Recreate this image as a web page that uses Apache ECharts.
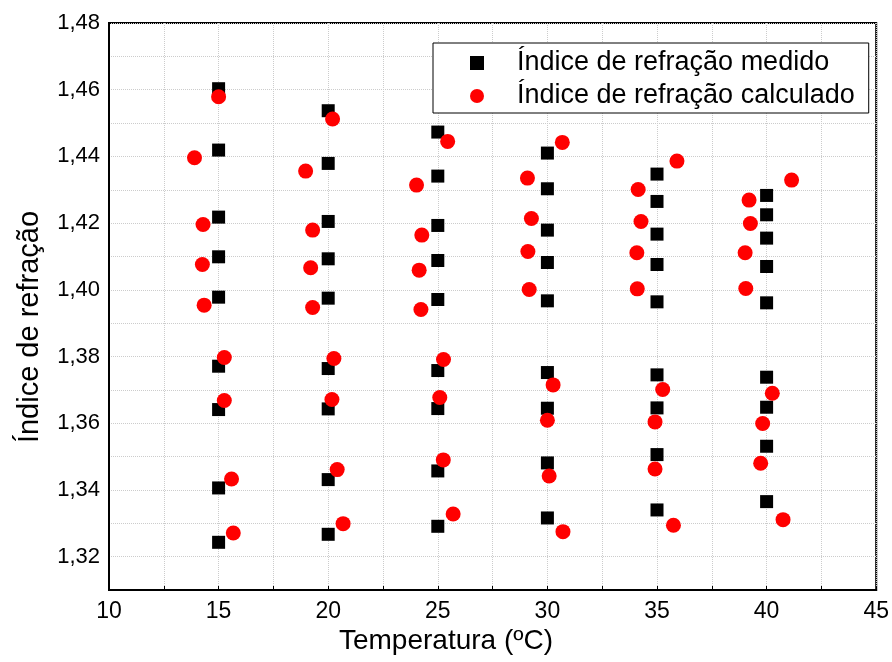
<!DOCTYPE html>
<html>
<head>
<meta charset="utf-8">
<script src="https://cdn.jsdelivr.net/npm/echarts@6/dist/echarts.min.js"></script>
<style>
  html, body { margin: 0; padding: 0; background: #fff; }
  #chart { width: 892px; height: 662px; }
</style>
</head>
<body>
<div id="chart"></div>
<script>
// Temperatures (ºC) at which the refractive index was measured
const temperaturas = [15, 20, 25, 30, 35, 40];

// Measured refractive index, one row per temperature
const medido = [
  [1.4603, 1.4419, 1.4218, 1.4099, 1.3978, 1.3771, 1.3641, 1.3406, 1.3243],
  [1.4537, 1.4379, 1.4205, 1.4093, 1.3975, 1.3764, 1.3643, 1.3431, 1.3267],
  [1.4473, 1.4341, 1.4193, 1.4088, 1.3971, 1.3758, 1.3644, 1.3457, 1.3291],
  [1.4410, 1.4303, 1.4179, 1.4082, 1.3967, 1.3752, 1.3645, 1.3481, 1.3316],
  [1.4347, 1.4265, 1.4167, 1.4076, 1.3964, 1.3745, 1.3646, 1.3506, 1.3340],
  [1.4283, 1.4225, 1.4155, 1.4070, 1.3961, 1.3738, 1.3648, 1.3531, 1.3365]
];

// Calculated refractive index: temperature coordinates of each point
const calculadoT = [
  [15.00, 13.90, 14.29, 14.26, 14.34, 15.26, 15.26, 15.59, 15.67],
  [20.20, 18.97, 19.29, 19.20, 19.29, 20.26, 20.17, 20.41, 20.68],
  [25.45, 24.03, 24.27, 24.15, 24.23, 25.26, 25.09, 25.25, 25.70],
  [30.68, 29.09, 29.27, 29.11, 29.17, 30.26, 30.00, 30.08, 30.71],
  [35.91, 34.14, 34.27, 34.08, 34.10, 35.26, 34.91, 34.91, 35.75],
  [41.14, 39.20, 39.26, 39.02, 39.05, 40.26, 39.82, 39.73, 40.75]
];

// Calculated refractive index values
const calculadoN = [
  [1.4579, 1.4396, 1.4196, 1.4076, 1.3954, 1.3797, 1.3668, 1.3433, 1.3271],
  [1.4512, 1.4356, 1.4179, 1.4066, 1.3947, 1.3794, 1.3671, 1.3461, 1.3299],
  [1.4445, 1.4314, 1.4164, 1.4059, 1.3941, 1.3791, 1.3677, 1.3490, 1.3328],
  [1.4442, 1.4335, 1.4214, 1.4115, 1.4001, 1.3715, 1.3609, 1.3442, 1.3275],
  [1.4386, 1.4301, 1.4205, 1.4111, 1.4003, 1.3701, 1.3604, 1.3463, 1.3294],
  [1.4329, 1.4269, 1.4199, 1.4111, 1.4004, 1.3690, 1.3599, 1.3480, 1.3311]
];

const nomeMedido = 'Índice de refração medido';
const nomeCalculado = 'Índice de refração calculado';
const tituloX = 'Temperatura (ºC)';
const tituloY = 'Índice de refração';

const pontosMedido = [];
temperaturas.forEach((t, i) => medido[i].forEach(n => pontosMedido.push([t, n])));
const pontosCalculado = [];
calculadoT.forEach((linha, i) => linha.forEach((t, j) => pontosCalculado.push([t, calculadoN[i][j]])));

const fonte = '"Liberation Sans", Arial, sans-serif';
const gradeLinha = { show: true, lineStyle: { color: '#cccccc', type: 'dotted', width: 1 } };

const chart = echarts.init(document.getElementById('chart'), null, { renderer: 'canvas' });
chart.setOption({
  animation: false,
  backgroundColor: '#fff',
  grid: {
    left: 109, right: 14, top: 23, bottom: 72,
    show: true, borderColor: '#000', borderWidth: 2, backgroundColor: 'transparent'
  },
  xAxis: {
    type: 'value', min: 10, max: 45, interval: 2.5,
    axisLine: { show: true, lineStyle: { color: '#000', width: 2 } },
    axisTick: { show: true, inside: true, length: 4, lineStyle: { color: '#000' } },
    axisLabel: {
      color: '#000', fontSize: 23, fontFamily: fonte, margin: 10,
      formatter: v => (v % 5 === 0 ? String(v) : '')
    },
    splitLine: gradeLinha
  },
  yAxis: {
    type: 'value', min: 1.31, max: 1.48, interval: 0.01,
    axisLine: { show: true, lineStyle: { color: '#000', width: 2 } },
    axisTick: { show: false },
    axisLabel: {
      color: '#000', fontSize: 22, fontFamily: fonte, margin: 9,
      formatter: v => (Math.round(v * 100) % 2 === 0 ? v.toFixed(2).replace('.', ',') : '')
    },
    splitLine: gradeLinha
  },
  legend: {
    orient: 'vertical',
    left: 433, top: 43,
    padding: [6, 14, 3, 37],
    itemGap: 5,
    itemWidth: 14, itemHeight: 14,
    borderColor: '#000', borderWidth: 1, borderRadius: 0,
    backgroundColor: '#fff',
    textStyle: { color: '#000', fontSize: 27, fontFamily: fonte, lineHeight: 28, padding: [0, 0, 0, 28] },
    data: [
      { name: nomeMedido, icon: 'rect' },
      { name: nomeCalculado, icon: 'circle' }
    ]
  },
  graphic: [
    {
      type: 'text', left: 'center', top: 627,
      style: { text: tituloX, fill: '#000', fontSize: 28, fontFamily: fonte }
    },
    {
      type: 'text', x: 30, y: 327, rotation: Math.PI / 2,
      style: { text: tituloY, fill: '#000', fontSize: 29, fontFamily: fonte, align: 'center', verticalAlign: 'middle' }
    }
  ],
  series: [
    {
      name: nomeMedido, type: 'scatter', symbol: 'rect', symbolSize: 13,
      itemStyle: { color: '#000', opacity: 1 }, data: pontosMedido, z: 2
    },
    {
      name: nomeCalculado, type: 'scatter', symbol: 'circle', symbolSize: 15,
      itemStyle: { color: '#ff0000', opacity: 1 }, data: pontosCalculado, z: 3
    }
  ]
});
</script>
</body>
</html>
